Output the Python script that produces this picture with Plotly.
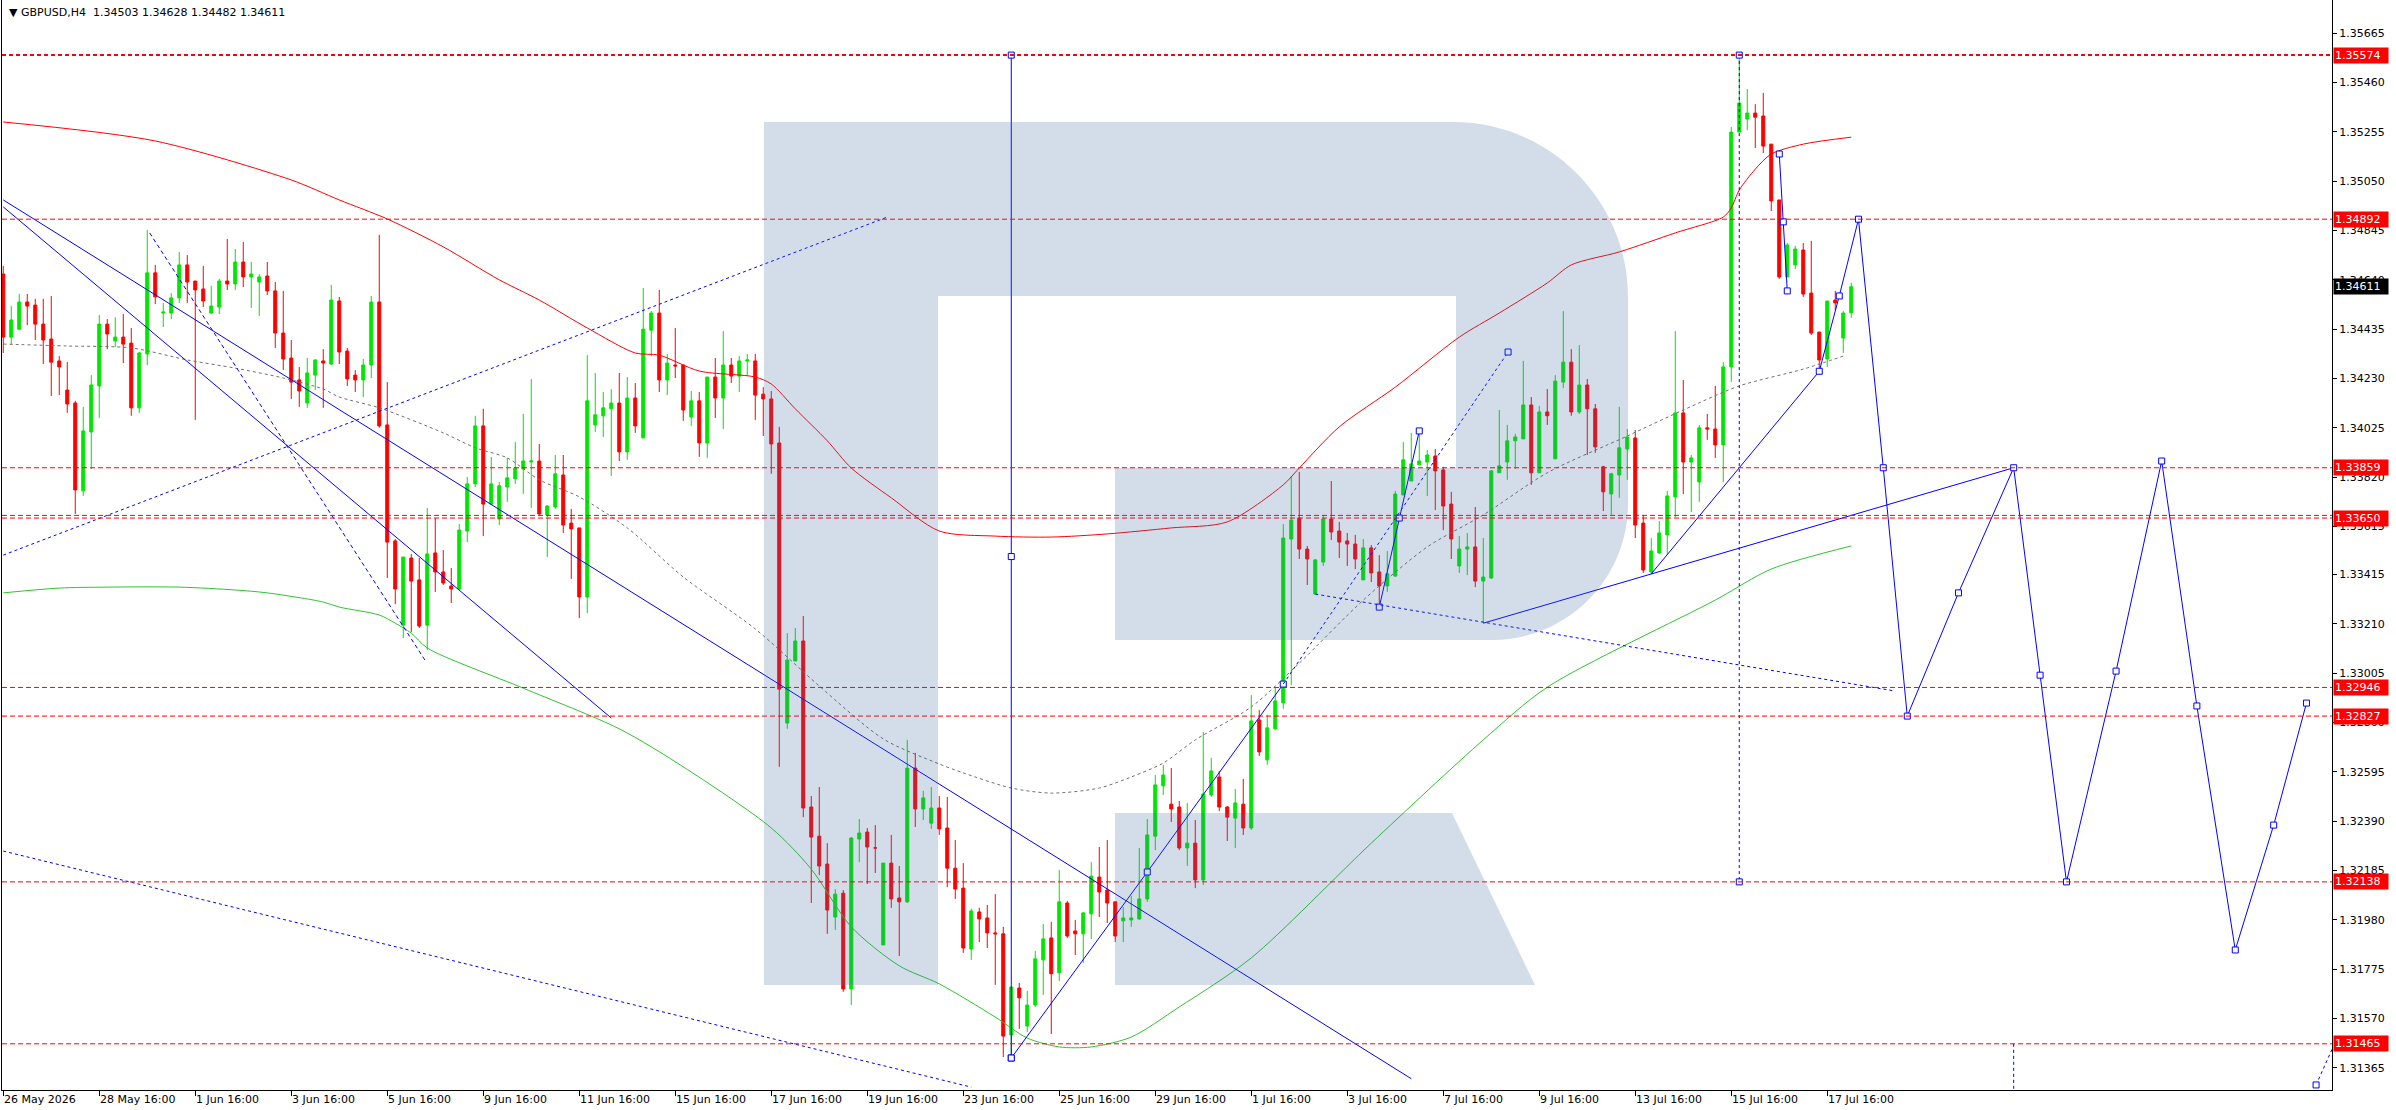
import plotly.graph_objects as go

# ---------------- data ----------------
tick_bars = list(range(0, 229, 12))
tick_labels = ["26 May 2026", "28 May 16:00", "1 Jun 16:00", "3 Jun 16:00", "5 Jun 16:00",
               "9 Jun 16:00", "11 Jun 16:00", "15 Jun 16:00", "17 Jun 16:00", "19 Jun 16:00",
               "23 Jun 16:00", "25 Jun 16:00", "29 Jun 16:00", "1 Jul 16:00", "3 Jul 16:00",
               "7 Jul 16:00", "9 Jul 16:00", "13 Jul 16:00", "15 Jul 16:00", "17 Jul 16:00"]

y_ticks = [1.35665, 1.35460, 1.35255, 1.35050, 1.34845, 1.34640, 1.34435, 1.34230, 1.34025,
           1.33820, 1.33615, 1.33415, 1.33210, 1.33005, 1.32800, 1.32595, 1.32390, 1.32185,
           1.31980, 1.31775, 1.31570, 1.31365]

ohlc = [
    (1.34664, 1.34698, 1.34336, 1.34402), (1.34402, 1.34531, 1.34373, 1.34473),
    (1.34435, 1.34581, 1.34431, 1.34548), (1.34548, 1.34581, 1.34452, 1.34531),
    (1.34535, 1.34561, 1.34390, 1.34456), (1.34456, 1.34561, 1.34290, 1.34390),
    (1.34394, 1.34573, 1.34157, 1.34298), (1.34303, 1.34323, 1.34161, 1.34278),
    (1.34182, 1.34298, 1.34087, 1.34124), (1.34128, 1.34137, 1.33667, 1.33767),
    (1.33763, 1.34112, 1.33742, 1.34012), (1.34008, 1.34244, 1.33854, 1.34203),
    (1.34199, 1.34494, 1.34066, 1.34456), (1.34456, 1.34477, 1.34352, 1.34415),
    (1.34386, 1.34485, 1.34361, 1.34402), (1.34402, 1.34498, 1.34294, 1.34373),
    (1.34377, 1.34440, 1.34075, 1.34108), (1.34108, 1.34340, 1.34087, 1.34336),
    (1.34332, 1.34847, 1.34286, 1.34669), (1.34669, 1.34702, 1.34539, 1.34569),
    (1.34502, 1.34544, 1.34444, 1.34506), (1.34502, 1.34585, 1.34477, 1.34565),
    (1.34565, 1.34756, 1.34544, 1.34702), (1.34702, 1.34743, 1.34544, 1.34631),
    (1.34635, 1.34635, 1.34058, 1.34598), (1.34602, 1.34698, 1.34527, 1.34552),
    (1.34502, 1.34615, 1.34498, 1.34531), (1.34527, 1.34644, 1.34498, 1.34635),
    (1.34635, 1.34810, 1.34598, 1.34623), (1.34623, 1.34768, 1.34598, 1.34714),
    (1.34714, 1.34797, 1.34610, 1.34652), (1.34652, 1.34714, 1.34523, 1.34664),
    (1.34631, 1.34664, 1.34490, 1.34652), (1.34656, 1.34714, 1.34577, 1.34594),
    (1.34594, 1.34631, 1.34357, 1.34419), (1.34419, 1.34594, 1.34265, 1.34311),
    (1.34315, 1.34390, 1.34145, 1.34215), (1.34224, 1.34278, 1.34112, 1.34178),
    (1.34128, 1.34315, 1.34108, 1.34253), (1.34244, 1.34311, 1.34182, 1.34307),
    (1.34303, 1.34352, 1.34108, 1.34294), (1.34290, 1.34619, 1.34286, 1.34556),
    (1.34552, 1.34569, 1.34290, 1.34340), (1.34344, 1.34357, 1.34199, 1.34228),
    (1.34244, 1.34265, 1.34174, 1.34224), (1.34224, 1.34311, 1.34153, 1.34286),
    (1.34286, 1.34573, 1.34232, 1.34548), (1.34548, 1.34827, 1.34025, 1.34033),
    (1.34037, 1.34215, 1.33401, 1.33550), (1.33555, 1.33563, 1.33292, 1.33355),
    (1.33205, 1.33488, 1.33151, 1.33488), (1.33484, 1.33501, 1.33176, 1.33388),
    (1.33393, 1.33484, 1.33193, 1.33201), (1.33205, 1.33692, 1.33101, 1.33501),
    (1.33505, 1.33650, 1.33343, 1.33426), (1.33426, 1.33517, 1.33372, 1.33380),
    (1.33368, 1.33442, 1.33297, 1.33355), (1.33355, 1.33625, 1.33351, 1.33600),
    (1.33596, 1.33821, 1.33550, 1.33792), (1.33792, 1.34075, 1.33779, 1.34033),
    (1.34033, 1.34104, 1.33575, 1.33708), (1.33708, 1.33904, 1.33708, 1.33792),
    (1.33646, 1.33800, 1.33621, 1.33784), (1.33779, 1.33900, 1.33717, 1.33817),
    (1.33813, 1.33966, 1.33792, 1.33858), (1.33854, 1.34083, 1.33750, 1.33887),
    (1.33883, 1.34228, 1.33692, 1.33887), (1.33887, 1.33958, 1.33658, 1.33667),
    (1.33663, 1.33704, 1.33488, 1.33700), (1.33696, 1.33912, 1.33688, 1.33834),
    (1.33829, 1.33912, 1.33588, 1.33621), (1.33629, 1.33688, 1.33397, 1.33605),
    (1.33609, 1.33609, 1.33234, 1.33322), (1.33322, 1.34327, 1.33255, 1.34137),
    (1.34037, 1.34253, 1.34008, 1.34079), (1.34075, 1.34174, 1.33987, 1.34108),
    (1.34104, 1.34186, 1.33825, 1.34128), (1.34128, 1.34253, 1.33887, 1.33925),
    (1.33925, 1.34236, 1.33892, 1.34149), (1.34149, 1.34211, 1.34004, 1.34033),
    (1.33983, 1.34606, 1.33983, 1.34435), (1.34431, 1.34510, 1.34323, 1.34502),
    (1.34502, 1.34598, 1.34174, 1.34224), (1.34224, 1.34332, 1.34161, 1.34294),
    (1.34286, 1.34440, 1.34232, 1.34282), (1.34286, 1.34286, 1.34054, 1.34099),
    (1.34070, 1.34178, 1.34033, 1.34137), (1.34137, 1.34174, 1.33904, 1.33962),
    (1.33962, 1.34236, 1.33900, 1.34236), (1.34236, 1.34315, 1.34066, 1.34149),
    (1.34149, 1.34427, 1.34020, 1.34286), (1.34286, 1.34315, 1.34211, 1.34240),
    (1.34240, 1.34323, 1.34174, 1.34303), (1.34303, 1.34332, 1.34240, 1.34307),
    (1.34303, 1.34332, 1.34058, 1.34161), (1.34165, 1.34194, 1.33991, 1.34145),
    (1.34145, 1.34178, 1.33834, 1.33958), (1.33962, 1.34029, 1.32616, 1.32939),
    (1.32798, 1.33172, 1.32774, 1.33060), (1.33056, 1.33193, 1.33056, 1.33139),
    (1.33139, 1.33243, 1.32407, 1.32445), (1.32449, 1.32495, 1.32050, 1.32324),
    (1.32328, 1.32532, 1.32166, 1.32204), (1.32212, 1.32299, 1.31922, 1.32021),
    (1.31992, 1.32108, 1.31938, 1.32087), (1.32091, 1.32104, 1.31681, 1.31693),
    (1.31693, 1.32324, 1.31626, 1.32320), (1.32316, 1.32399, 1.32220, 1.32341),
    (1.32345, 1.32362, 1.32129, 1.32283), (1.32279, 1.32374, 1.32175, 1.32279),
    (1.31876, 1.32216, 1.31876, 1.32216), (1.32216, 1.32333, 1.32030, 1.32067),
    (1.32071, 1.32204, 1.31830, 1.32055), (1.32055, 1.32728, 1.32050, 1.32611),
    (1.32611, 1.32674, 1.32366, 1.32441), (1.32441, 1.32516, 1.32395, 1.32487),
    (1.32382, 1.32532, 1.32358, 1.32445), (1.32445, 1.32495, 1.32333, 1.32358),
    (1.32362, 1.32491, 1.32116, 1.32195), (1.32195, 1.32312, 1.32067, 1.32108),
    (1.32112, 1.32216, 1.31843, 1.31863), (1.31859, 1.32026, 1.31814, 1.32017),
    (1.32013, 1.32030, 1.31888, 1.31984), (1.31988, 1.32042, 1.31863, 1.31926),
    (1.31926, 1.32087, 1.31710, 1.31922), (1.31922, 1.31951, 1.31410, 1.31497),
    (1.31502, 1.31701, 1.31406, 1.31701), (1.31697, 1.31718, 1.31527, 1.31656),
    (1.31539, 1.31685, 1.31514, 1.31626), (1.31626, 1.31851, 1.31618, 1.31818),
    (1.31814, 1.31963, 1.31668, 1.31901), (1.31905, 1.31972, 1.31506, 1.31756),
    (1.31760, 1.32187, 1.31726, 1.32055), (1.32050, 1.32059, 1.31905, 1.31913),
    (1.31934, 1.31980, 1.31834, 1.31922), (1.31922, 1.32013, 1.31801, 1.32009),
    (1.32005, 1.32220, 1.31901, 1.32162), (1.32158, 1.32283, 1.31992, 1.32096),
    (1.32104, 1.32312, 1.31967, 1.32050), (1.32055, 1.32055, 1.31888, 1.31913),
    (1.31976, 1.32034, 1.31888, 1.31988), (1.31980, 1.32079, 1.31951, 1.31988),
    (1.31984, 1.32279, 1.31980, 1.32067), (1.32067, 1.32399, 1.32055, 1.32333),
    (1.32328, 1.32582, 1.32270, 1.32541), (1.32537, 1.32624, 1.32499, 1.32582),
    (1.32461, 1.32611, 1.32387, 1.32441), (1.32449, 1.32474, 1.32270, 1.32279),
    (1.32279, 1.32466, 1.32204, 1.32299), (1.32299, 1.32395, 1.32112, 1.32146),
    (1.32146, 1.32761, 1.32125, 1.32503), (1.32499, 1.32653, 1.32491, 1.32599),
    (1.32574, 1.32599, 1.32432, 1.32449), (1.32449, 1.32453, 1.32308, 1.32407),
    (1.32403, 1.32524, 1.32279, 1.32466), (1.32461, 1.32566, 1.32333, 1.32362),
    (1.32362, 1.32914, 1.32354, 1.32807), (1.32811, 1.32852, 1.32661, 1.32678),
    (1.32645, 1.32832, 1.32624, 1.32778), (1.32774, 1.32947, 1.32769, 1.32890),
    (1.32882, 1.33625, 1.32857, 1.33567), (1.33563, 1.33825, 1.32956, 1.33642),
    (1.33650, 1.33842, 1.33480, 1.33521), (1.33521, 1.33534, 1.33372, 1.33480),
    (1.33334, 1.33480, 1.33330, 1.33476), (1.33467, 1.33663, 1.33451, 1.33646),
    (1.33646, 1.33804, 1.33559, 1.33592), (1.33596, 1.33634, 1.33484, 1.33550),
    (1.33555, 1.33588, 1.33451, 1.33542), (1.33542, 1.33580, 1.33438, 1.33480),
    (1.33393, 1.33563, 1.33393, 1.33526), (1.33526, 1.33538, 1.33384, 1.33422),
    (1.33426, 1.33496, 1.33280, 1.33368), (1.33368, 1.33513, 1.33343, 1.33418),
    (1.33409, 1.33763, 1.33405, 1.33750), (1.33746, 1.33966, 1.33746, 1.33892),
    (1.33804, 1.34004, 1.33804, 1.33875), (1.33871, 1.34004, 1.33871, 1.33887),
    (1.33883, 1.33933, 1.33742, 1.33912), (1.33908, 1.33937, 1.33683, 1.33846),
    (1.33850, 1.33863, 1.33600, 1.33700), (1.33708, 1.33759, 1.33480, 1.33563),
    (1.33451, 1.33575, 1.33422, 1.33521), (1.33521, 1.33588, 1.33413, 1.33530),
    (1.33530, 1.33696, 1.33363, 1.33388), (1.33388, 1.33567, 1.33213, 1.33405),
    (1.33401, 1.33850, 1.33397, 1.33846), (1.33838, 1.34099, 1.33838, 1.33867),
    (1.33883, 1.34037, 1.33809, 1.33971), (1.33971, 1.34000, 1.33854, 1.33987),
    (1.33979, 1.34303, 1.33979, 1.34120), (1.34120, 1.34153, 1.33788, 1.33838),
    (1.33838, 1.34116, 1.33838, 1.34091), (1.34091, 1.34186, 1.34037, 1.34075),
    (1.33896, 1.34244, 1.33896, 1.34219), (1.34215, 1.34510, 1.34190, 1.34298),
    (1.34298, 1.34352, 1.34075, 1.34091), (1.34091, 1.34369, 1.34083, 1.34203),
    (1.34203, 1.34228, 1.33912, 1.34104), (1.34104, 1.34124, 1.33921, 1.33946),
    (1.33863, 1.33867, 1.33679, 1.33759), (1.33750, 1.33838, 1.33663, 1.33834),
    (1.33829, 1.34112, 1.33734, 1.33942), (1.33937, 1.34020, 1.33809, 1.33987),
    (1.33983, 1.34016, 1.33567, 1.33621), (1.33629, 1.33663, 1.33422, 1.33434),
    (1.33426, 1.33567, 1.33418, 1.33513), (1.33505, 1.33638, 1.33501, 1.33588),
    (1.33580, 1.33763, 1.33501, 1.33742), (1.33738, 1.34427, 1.33654, 1.34087),
    (1.34087, 1.34224, 1.33750, 1.33883), (1.33883, 1.33912, 1.33675, 1.33900),
    (1.33800, 1.34037, 1.33717, 1.34025), (1.34025, 1.34083, 1.33975, 1.34020),
    (1.34020, 1.34199, 1.33900, 1.33954), (1.33954, 1.34298, 1.33800, 1.34278),
    (1.34278, 1.35275, 1.34215, 1.35254), (1.35254, 1.35574, 1.35254, 1.35375),
    (1.35308, 1.35433, 1.35262, 1.35333), (1.35333, 1.35370, 1.35188, 1.35316),
    (1.35321, 1.35417, 1.35167, 1.35196), (1.35204, 1.35204, 1.34926, 1.34968),
    (1.34972, 1.34972, 1.34644, 1.34652), (1.34652, 1.34793, 1.34652, 1.34785),
    (1.34702, 1.34781, 1.34685, 1.34768), (1.34764, 1.34793, 1.34569, 1.34581),
    (1.34585, 1.34802, 1.34411, 1.34419), (1.34423, 1.34423, 1.34265, 1.34307),
    (1.34311, 1.34552, 1.34278, 1.34552), (1.34556, 1.34594, 1.34514, 1.34544),
    (1.34398, 1.34510, 1.34336, 1.34502), (1.34503, 1.34628, 1.34482, 1.34611),
]
opens = [r[0] for r in ohlc]
highs = [r[1] for r in ohlc]
lows = [r[2] for r in ohlc]
closes = [r[3] for r in ohlc]
bars = list(range(len(ohlc)))

# moving averages (read at sample bars)
red_ma_bars = [0, 19, 36, 42, 48, 55, 62, 67, 73, 79, 82, 87, 94, 96, 99, 103, 106, 111, 117, 124,
               131, 138, 146, 153, 160, 162, 167, 174, 182, 187, 193, 196, 202, 209, 215, 216, 217,
               219, 221, 225, 231]
red_ma_vals = [1.35296, 1.35217, 1.35055, 1.34972, 1.34893, 1.34777, 1.34640, 1.34556, 1.34440,
               1.34336, 1.34327, 1.34261, 1.34236, 1.34207, 1.34104, 1.33971, 1.33858, 1.33734,
               1.33596, 1.33575, 1.33571, 1.33584, 1.33609, 1.33634, 1.33788, 1.33858, 1.34029,
               1.34194, 1.34402, 1.34502, 1.34627, 1.34702, 1.34756, 1.34835, 1.34901, 1.34939,
               1.35013, 1.35100, 1.35163, 1.35204, 1.35233]

green_ma_bars = [0, 7, 13, 22, 29, 33, 40, 42, 47, 49, 51, 53, 65, 77, 85, 96, 101, 106, 112, 117,
                 124, 128, 132, 136, 141, 147, 156, 171, 185, 193, 214, 221, 231]
green_ma_vals = [1.33339, 1.33359, 1.33363, 1.33363, 1.33351, 1.33339, 1.33301, 1.33280, 1.33247,
                 1.33213, 1.33172, 1.33110, 1.32943, 1.32774, 1.32616, 1.32362, 1.32191, 1.31951,
                 1.31789, 1.31714, 1.31576, 1.31489, 1.31452, 1.31452, 1.31493, 1.31618, 1.31822,
                 1.32299, 1.32728, 1.32947, 1.33309, 1.33438, 1.33534]

gray_ma_bars = [0, 8, 16, 23, 29, 35, 40, 42, 47, 55, 59, 63, 67, 72, 78, 85, 94, 102, 110, 117,
                120, 126, 131, 137, 141, 145, 149, 156, 162, 170, 178, 185, 193, 203, 210, 217,
                225, 230]
gray_ma_vals = [1.34373, 1.34365, 1.34357, 1.34307, 1.34273, 1.34232, 1.34186, 1.34153, 1.34108,
                1.34004, 1.33942, 1.33900, 1.33809, 1.33738, 1.33609, 1.33405, 1.33189, 1.32952,
                1.32732, 1.32628, 1.32591, 1.32528, 1.32507, 1.32528, 1.32574, 1.32632, 1.32728,
                1.32865, 1.33047, 1.33309, 1.33530, 1.33663, 1.33838, 1.33991, 1.34099, 1.34199,
                1.34269, 1.34323]

# horizontal levels
red_levels = [1.35574, 1.34892, 1.33859, 1.33650, 1.32946, 1.32827, 1.32138, 1.31465]
extra_level = 1.33661
current_price = closes[-1]

# analyst drawings (bar index, price)
trend_a_bars, trend_a_vals = [0, 176], [1.34972, 1.31320]
trend_b_bars, trend_b_vals = [0, 76], [1.34943, 1.32819]
dash_c_bars, dash_c_vals = [18.3, 52.7], [1.34835, 1.33060]
dot_up_bars, dot_up_vals = [0, 110.5], [1.33496, 1.34901]
dot_low_bars, dot_low_vals = [0, 121], [1.32266, 1.31285]
vert_bars, vert_vals = [126, 126, 126], [1.35574, 1.33490, 1.31406]
s1_bars, s1_vals = [126, 143, 160], [1.31406, 1.32179, 1.32960]
d1_bars, d1_vals = [160, 188.1], [1.32960, 1.34340]
s2_bars, s2_vals = [172, 174.5, 177], [1.33280, 1.33650, 1.34012]
d3_bars, d3_vals = [164, 236.5], [1.33334, 1.32931]
s3_bars, s3_vals = [185, 251.3], [1.33213, 1.33859]
s4_bars, s4_vals = [206, 227], [1.33418, 1.34260]
tiny_bars, tiny_vals = [222, 222.5, 223], [1.35163, 1.34881, 1.34594]
proj_bars = [227, 229.5, 231.9, 235, 238, 244.4, 251.3, 254.6, 257.9, 264.1, 269.8, 274.2, 279,
             283.8, 287.9]
proj_vals = [1.34260, 1.34573, 1.34892, 1.33859, 1.32827, 1.33339, 1.33859, 1.32997, 1.32138,
             1.33014, 1.33887, 1.32869, 1.31855, 1.32374, 1.32881]
vdash_hi_bars, vdash_hi_vals = [217, 217], [1.35574, 1.32138]
vdash_fut_bars, vdash_fut_vals = [251.3, 251.3], [1.31465, 1.31200]
edge_bars, edge_vals = [289.1, 291.6], [1.31294, 1.31480]

# ---------------- figure ----------------
FONT = "DejaVu Sans"
BLUE = "#0000ff"
fig = go.Figure()

fig.add_trace(go.Candlestick(
    x=bars, open=opens, high=highs, low=lows, close=closes,
    increasing=dict(line=dict(color="#00e600", width=1), fillcolor="#00e600"),
    decreasing=dict(line=dict(color="#ff0000", width=1), fillcolor="#ff0000"),
    whiskerwidth=0, hoverinfo="skip", showlegend=False))

fig.add_trace(go.Scatter(x=red_ma_bars, y=red_ma_vals, mode="lines",
                         line=dict(color="#ff0000", width=1, shape="spline", smoothing=0.8),
                         hoverinfo="skip", showlegend=False))
fig.add_trace(go.Scatter(x=green_ma_bars, y=green_ma_vals, mode="lines",
                         line=dict(color="#2ec42e", width=1, shape="spline", smoothing=0.8),
                         hoverinfo="skip", showlegend=False))
fig.add_trace(go.Scatter(x=gray_ma_bars, y=gray_ma_vals, mode="lines",
                         line=dict(color="#707070", width=1, shape="spline", smoothing=0.8,
                                   dash="3px,3px"),
                         hoverinfo="skip", showlegend=False))


def add_line(xs, ys, dash=None, markers=False, width=1):
    fig.add_trace(go.Scatter(
        x=xs, y=ys, mode="lines+markers" if markers else "lines",
        line=dict(color=BLUE, width=width, dash=dash) if dash else dict(color=BLUE, width=width),
        marker=dict(symbol="square", size=6, color="white", line=dict(color=BLUE, width=1)),
        hoverinfo="skip", showlegend=False))


add_line(trend_a_bars, trend_a_vals)
add_line(trend_b_bars, trend_b_vals)
add_line(dash_c_bars, dash_c_vals, dash="4px,3px")
add_line(dot_up_bars, dot_up_vals, dash="3px,3px")
add_line(dot_low_bars, dot_low_vals, dash="3px,3px")
add_line(vert_bars, vert_vals, markers=True)
add_line(s1_bars, s1_vals, markers=True)
add_line(d1_bars, d1_vals, dash="3px,3px")
add_line(d1_bars[-1:], d1_vals[-1:], markers=True)
add_line(s2_bars, s2_vals, markers=True)
add_line(d3_bars, d3_vals, dash="3px,3px")
add_line(s3_bars, s3_vals)
add_line(s4_bars, s4_vals)
add_line(tiny_bars, tiny_vals, markers=True)
add_line(proj_bars, proj_vals, markers=True)
add_line(vdash_hi_bars, vdash_hi_vals, dash="3px,3px", markers=True)
add_line(vdash_fut_bars, vdash_fut_vals, dash="3px,3px")
add_line(edge_bars, edge_vals, dash="3px,3px", markers=True)

shapes = []
for lv in red_levels + [extra_level]:
    top = lv == red_levels[0]
    shapes.append(dict(type="line", xref="paper", x0=0, x1=1, yref="y", y0=lv, y1=lv,
                       line=dict(color="#ff0000", width=2 if top else 1,
                                 dash="4px,3px" if top else "5px,3px"),
                       layer="above"))

# watermark logo (pixel geometry -> paper)
PL, PW, PH = 2, 2330, 1090


def P(x, y):
    return f"{(x - PL) / PW:.5f},{(PH - y) / PH:.5f}"


logo_main = (f"M {P(764,122)} L {P(1453,122)} C {P(1549.7,122)} {P(1628,200.3)} {P(1628,297)} "
             f"L {P(1628,504)} C {P(1628,579.1)} {P(1567.1,640)} {P(1492,640)} L {P(1115,640)} "
             f"L {P(1115,468)} L {P(1456,468)} L {P(1456,296)} L {P(938,296)} L {P(938,985)} "
             f"L {P(764,985)} Z")
logo_leg = f"M {P(1115,813)} L {P(1452,813)} L {P(1535,985)} L {P(1115,985)} Z"
for pth in (logo_main, logo_leg):
    shapes.append(dict(type="path", xref="paper", yref="paper", path=pth,
                       fillcolor="rgba(66,110,163,0.23)", line=dict(width=0), layer="above"))

annotations = []
for lv in red_levels:
    annotations.append(dict(x=1, xref="paper", xanchor="left", xshift=1, y=lv, yref="y",
                            text=f"{lv:.5f}", showarrow=False, bgcolor="#ff0000",
                            font=dict(color="white", size=11, family=FONT),
                            borderpad=1, width=52, align="left"))
annotations.append(dict(x=1, xref="paper", xanchor="left", xshift=1, y=current_price, yref="y",
                        text=f"{current_price:.5f}", showarrow=False, bgcolor="#000000",
                        font=dict(color="white", size=11, family=FONT),
                        borderpad=1, width=52, align="left"))
annotations.append(dict(x=0, xref="paper", xanchor="left", xshift=5, y=1, yref="paper",
                        yanchor="top", yshift=-4, showarrow=False, align="left",
                        text=f"▼ GBPUSD,H4  {opens[-1]:.5f} {highs[-1]:.5f} {lows[-1]:.5f} {closes[-1]:.5f}",
                        font=dict(color="#000000", size=11, family=FONT)))
for b, lbl in zip(tick_bars, tick_labels):
    annotations.append(dict(x=b, xref="x", xanchor="left", xshift=-1, y=0, yref="paper",
                            yanchor="top", yshift=-1, text=lbl, showarrow=False,
                            font=dict(color="#000000", size=11, family=FONT)))

fig.update_layout(
    width=2396, height=1110,
    margin=dict(l=2, r=64, t=0, b=20),
    paper_bgcolor="white", plot_bgcolor="white",
    showlegend=False, boxgap=0.45,
    shapes=shapes, annotations=annotations,
    font=dict(family=FONT, size=11, color="black"),
    xaxis=dict(range=[-0.16, 291.09], tickvals=tick_bars, showticklabels=False,
               ticks="outside", ticklen=5, tickcolor="black", showgrid=False, zeroline=False,
               showline=True, linecolor="black", linewidth=1, rangeslider=dict(visible=False)),
    yaxis=dict(range=[1.31273, 1.35803], side="right", tickvals=y_ticks,
               ticktext=[f"{v:.5f}" for v in y_ticks], ticks="outside", ticklen=4,
               tickcolor="black", showgrid=False, zeroline=False, showline=True,
               linecolor="black", linewidth=1, mirror=True, tickfont=dict(size=11, family=FONT)),
)

fig.write_html("out.html", config={"displayModeBar": False},
               post_script="document.body.style.margin='0px';document.body.style.overflow='hidden';")
